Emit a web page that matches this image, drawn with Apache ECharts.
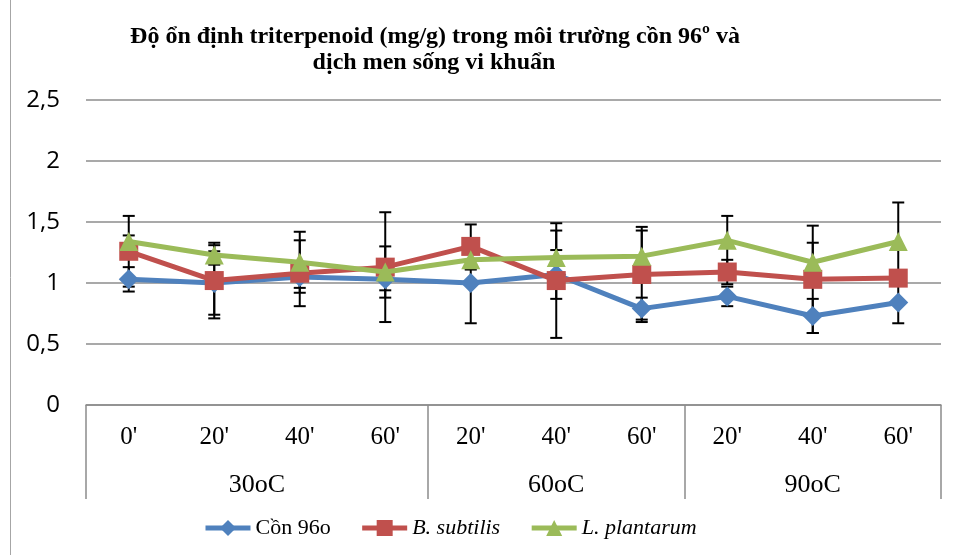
<!DOCTYPE html>
<html>
<head>
<meta charset="utf-8">
<script src="https://cdn.jsdelivr.net/npm/echarts@6/dist/echarts.min.js"></script>
<style>html,body{margin:0;padding:0;background:#fff}#c{width:960px;height:555px}</style>
</head>
<body>
<div id="c"></div>
<script>
const subLabels = ["0'", "20'", "40'", "60'", "20'", "40'", "60'", "20'", "40'", "60'"];
const groupLabels = ["30oC", "60oC", "90oC"];
const groupSizes = [4, 3, 3];
const yTicks = [0, 0.5, 1, 1.5, 2, 2.5];

const seriesNames = ["Cồn 96o", "B. subtilis", "L. plantarum"];
const con96 = [1.03, 1.00, 1.05, 1.03, 1.00, 1.07, 0.79, 0.89, 0.73, 0.84];
const con96Err = [0.10, 0.26, 0.09, 0.09, 0.33, 0.20, 0.09, 0.08, 0.14, 0.17];
const bSubtilis = [1.26, 1.02, 1.08, 1.13, 1.30, 1.02, 1.07, 1.09, 1.03, 1.04];
const bSubtilisErr = [0.29, 0.31, 0.27, 0.45, 0.18, 0.47, 0.39, 0.10, 0.44, 0.05];
const lPlantarum = [1.34, 1.23, 1.17, 1.09, 1.19, 1.21, 1.22, 1.35, 1.17, 1.34];
const lPlantarumErr = [0.05, 0.08, 0.25, 0.21, 0.08, 0.22, 0.21, 0.20, 0.16, 0.32];

const colors = ['#4F81BD', '#C0504D', '#9BBB59'];
const serif = '"Liberation Serif", "DejaVu Serif", serif';

const bounds = [0];
groupSizes.forEach(s => bounds.push(bounds[bounds.length - 1] + s));
const centers = groupSizes.map((s, i) => bounds[i] + s / 2);

function errData(vals, errs) {
  return vals.map((v, i) => [i, v - errs[i], v + errs[i]]);
}
function errSeries(vals, errs, z) {
  return {
    type: 'custom',
    xAxisIndex: 0, yAxisIndex: 0,
    z: z,
    silent: true,
    data: errData(vals, errs),
    renderItem: function (params, api) {
      const x = api.coord([api.value(0), 0])[0];
      const lo = api.coord([api.value(0), api.value(1)])[1];
      const hi = api.coord([api.value(0), api.value(2)])[1];
      const hw = 6;
      const st = { stroke: '#000', lineWidth: 2 };
      return {
        type: 'group',
        children: [
          { type: 'line', shape: { x1: x, y1: lo, x2: x, y2: hi }, style: st },
          { type: 'line', shape: { x1: x - hw, y1: lo, x2: x + hw, y2: lo }, style: st },
          { type: 'line', shape: { x1: x - hw, y1: hi, x2: x + hw, y2: hi }, style: st }
        ]
      };
    }
  };
}
function lineSeries(name, vals, color, symbol, size, z) {
  return {
    type: 'line', name: name, data: vals,
    xAxisIndex: 0, yAxisIndex: 0,
    symbol: symbol, symbolSize: size,
    itemStyle: { color: color },
    lineStyle: { color: color, width: 5 },
    z: z
  };
}

const chart = echarts.init(document.getElementById('c'));
chart.setOption({
  animation: false,
  color: colors,
  graphic: [
    { type: 'text', x: 435, y: 37, style: { text: 'Độ ổn định triterpenoid (mg/g) trong môi trường cồn 96º và', font: 'bold 24px ' + serif, fill: '#000', textAlign: 'center', textVerticalAlign: 'middle' } },
    { type: 'text', x: 434, y: 63, style: { text: 'dịch men sống vi khuẩn', font: 'bold 24px ' + serif, fill: '#000', textAlign: 'center', textVerticalAlign: 'middle' } },
    { type: 'line', shape: { x1: 10.5, y1: 0, x2: 10.5, y2: 555 }, style: { stroke: '#a6a6a6', lineWidth: 1 } }
  ],
  legend: {
    left: 203, top: 517, padding: 0,
    itemWidth: 45, itemHeight: 20, itemGap: 29,
    data: seriesNames,
    lineStyle: { width: 5 },
    formatter: function (n) { return n === seriesNames[0] ? '{n|' + n + '}' : '{i|' + n + '}'; },
    textStyle: {
      rich: {
        n: { fontFamily: serif, fontSize: 22, color: '#000' },
        i: { fontFamily: serif, fontSize: 22, fontStyle: 'italic', color: '#000' }
      }
    }
  },
  grid: { left: 86, right: 19, top: 100, bottom: 150 },
  xAxis: [
    {
      type: 'category', data: subLabels, boundaryGap: true,
      axisLine: { show: true, lineStyle: { color: '#8c8c8c', width: 1.5 } },
      axisTick: { show: false },
      axisLabel: { margin: 20, fontFamily: serif, fontSize: 25, color: '#000', interval: 0 },
      splitLine: { show: false }
    },
    {
      type: 'value', min: 0, max: bounds[bounds.length - 1], position: 'bottom',
      axisLine: { show: false },
      axisTick: { show: true, customValues: bounds, length: 94, inside: false, lineStyle: { color: '#8c8c8c', width: 1.5 } },
      axisLabel: {
        show: true, customValues: centers, margin: 67,
        fontFamily: serif, fontSize: 26, color: '#000',
        formatter: function (v) { const i = centers.indexOf(v); return i >= 0 ? groupLabels[i] : ''; }
      },
      splitLine: { show: false }
    }
  ],
  yAxis: {
    type: 'value', min: yTicks[0], max: yTicks[yTicks.length - 1], interval: 0.5,
    axisLine: { show: false }, axisTick: { show: false },
    axisLabel: { margin: 26, fontFamily: '"Open Sans", "Liberation Sans", sans-serif', fontSize: 24, color: '#000',
      formatter: function (v) { return String(v).replace('.', ','); } },
    splitLine: { show: true, lineStyle: { color: '#8c8c8c', width: 1.5 } }
  },
  series: [
    errSeries(con96, con96Err, 1),
    errSeries(bSubtilis, bSubtilisErr, 1),
    errSeries(lPlantarum, lPlantarumErr, 1),
    lineSeries(seriesNames[0], con96, colors[0], 'diamond', 20, 3),
    lineSeries(seriesNames[1], bSubtilis, colors[1], 'rect', 19, 4),
    lineSeries(seriesNames[2], lPlantarum, colors[2], 'triangle', 19, 5)
  ]
});
</script>
</body>
</html>
